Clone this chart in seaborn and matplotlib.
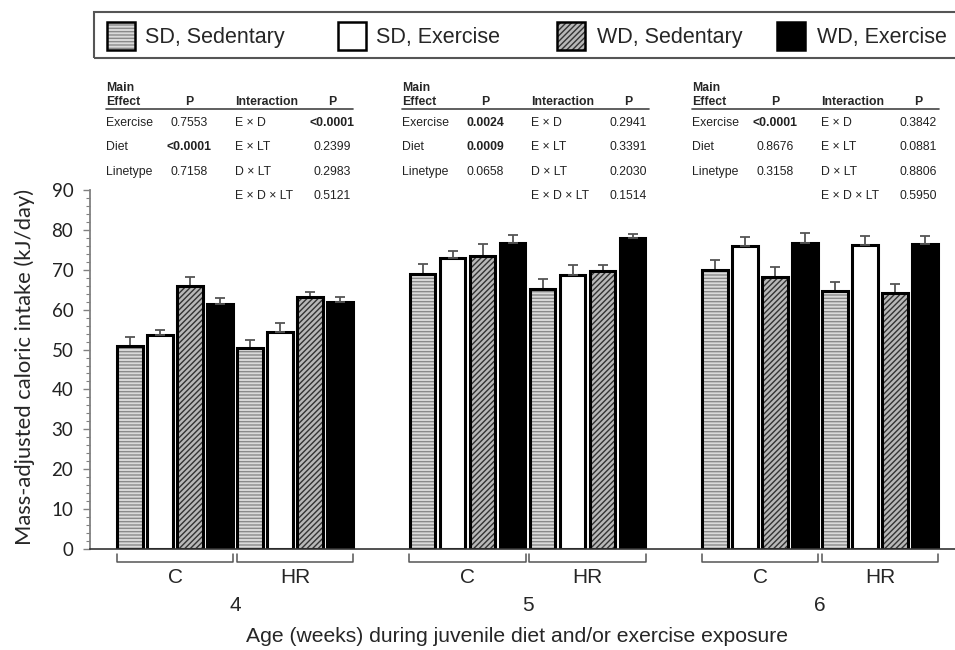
import numpy as np
import pandas as pd
import matplotlib
matplotlib.use("Agg")
import matplotlib.pyplot as plt
import seaborn as sns
from matplotlib.patches import Rectangle
from matplotlib.lines import Line2D

# ---------------- data ----------------
weeks = ["4", "5", "6"]
linetypes = ["C", "HR"]
treatments = ["SD, Sedentary", "SD, Exercise", "WD, Sedentary", "WD, Exercise"]

mean_4_C = [50.9, 53.6, 65.9, 61.4]
mean_4_HR = [50.3, 54.4, 63.2, 61.9]
mean_5_C = [68.9, 72.9, 73.4, 76.7]
mean_5_HR = [65.2, 68.7, 69.8, 77.9]
mean_6_C = [69.9, 75.9, 68.1, 76.7]
mean_6_HR = [64.7, 76.2, 64.3, 76.5]

se_4_C = [2.2, 1.3, 2.3, 1.6]
se_4_HR = [2.1, 2.2, 1.3, 1.2]
se_5_C = [2.5, 1.8, 3.0, 2.0]
se_5_HR = [2.4, 2.5, 1.5, 1.0]
se_6_C = [2.6, 2.3, 2.7, 2.5]
se_6_HR = [2.3, 2.2, 2.1, 2.0]

main_effects = ["Exercise", "Diet", "Linetype"]
interactions = ["E × D", "E × LT", "D × LT", "E × D × LT"]
main_p_4 = ["0.7553", "<0.0001", "0.7158"]
int_p_4 = ["<0.0001", "0.2399", "0.2983", "0.5121"]
main_p_5 = ["0.0024", "0.0009", "0.0658"]
int_p_5 = ["0.2941", "0.3391", "0.2030", "0.1514"]
main_p_6 = ["<0.0001", "0.8676", "0.3158"]
int_p_6 = ["0.3842", "0.0881", "0.8806", "0.5950"]

means = {("4", "C"): mean_4_C, ("4", "HR"): mean_4_HR,
         ("5", "C"): mean_5_C, ("5", "HR"): mean_5_HR,
         ("6", "C"): mean_6_C, ("6", "HR"): mean_6_HR}
ses = {("4", "C"): se_4_C, ("4", "HR"): se_4_HR,
       ("5", "C"): se_5_C, ("5", "HR"): se_5_HR,
       ("6", "C"): se_6_C, ("6", "HR"): se_6_HR}
main_ps = [main_p_4, main_p_5, main_p_6]
int_ps = [int_p_4, int_p_5, int_p_6]

# ---------------- layout ----------------
W, H = 955, 650
def fx(px): return px / W
def fy(py): return 1 - py / H

WEEK_STEP = 2.4375
rows = []
for wi, wk in enumerate(weeks):
    for li, lt in enumerate(linetypes):
        pos = wi * WEEK_STEP + li
        for ti, tr in enumerate(treatments):
            rows.append(dict(week=wk, lt=lt, pos=pos, treatment=tr,
                             mean=means[(wk, lt)][ti], se=ses[(wk, lt)][ti]))
df = pd.DataFrame(rows)

sns.set_theme(style="white")
plt.rcParams["font.family"] = ["Liberation Sans", "DejaVu Sans"]
plt.rcParams["hatch.linewidth"] = 1.0

fig = plt.figure(figsize=(W / 100, H / 100), dpi=100)
fig.patch.set_facecolor("white")
ax = fig.add_axes([fx(90), fy(549), 1 - fx(90), fy(190) - fy(549)])

palette = {"SD, Sedentary": "#dadada", "SD, Exercise": "white",
           "WD, Sedentary": "#b8b8b8", "WD, Exercise": "black"}
hatches = {"SD, Sedentary": ("-----", "#8a8a8a"),
           "WD, Sedentary": ("//////", "#333333")}

sns.barplot(data=df, x="pos", y="mean", hue="treatment", hue_order=treatments,
            palette=palette, native_scale=True, width=1.0, gap=0.14,
            errorbar=None, legend=False, ax=ax)

group_pos = sorted(df["pos"].unique())
for cont, tr in zip(ax.containers, treatments):
    for bar in cont:
        x0, y0 = bar.get_xy()
        w, h = bar.get_width(), bar.get_height()
        xc = x0 + w / 2
        gp = min(group_pos, key=lambda p: abs(p - xc))
        row = df[(df["pos"] == gp) & (df["treatment"] == tr)].iloc[0]
        if tr in hatches:
            hatch, hc = hatches[tr]
            bar.set_hatch(hatch)
            bar.set_edgecolor(hc)
            bar.set_linewidth(0)
            ax.add_patch(Rectangle((x0, y0), w, h, fill=False, edgecolor="black",
                                   linewidth=2.2, zorder=bar.get_zorder() + 0.1))
        else:
            bar.set_edgecolor("black")
            bar.set_linewidth(2.2)
        ax.errorbar(xc, h, yerr=[[0], [row["se"]]], fmt="none", ecolor="#555555",
                    elinewidth=1.3, capsize=3.5, capthick=1.3, zorder=1)

ax.set_ylim(0, 90)
ax.set_xlim((90 - 175) / 120, (955 - 175) / 120)
ax.set_yticks(range(0, 91, 10))
ax.set_yticks(range(0, 91, 2), minor=True)
ax.set_xticks([])
ax.set_xlabel("")
ax.set_ylabel("")
for lab in ax.get_yticklabels():
    lab.set_fontfamily(["Lato", "DejaVu Sans"])
    lab.set_fontsize(13.5)
    lab.set_color("#222222")
ax.tick_params(axis="y", which="major", length=5, width=1, color="#808080",
               left=True, pad=7)
ax.tick_params(axis="y", which="minor", length=3, width=0.8, color="#808080",
               left=True)
for s in ["top", "right"]:
    ax.spines[s].set_visible(False)
ax.spines["left"].set_color("#808080")
ax.spines["left"].set_linewidth(1.3)
ax.spines["bottom"].set_color("#333333")
ax.spines["bottom"].set_linewidth(1.2)

# brackets and group labels
tr_x = ax.get_xaxis_transform()
for wi, wk in enumerate(weeks):
    for li, lt in enumerate(linetypes):
        p = wi * WEEK_STEP + li
        l, r = p - 0.485, p + 0.485
        ax.add_line(Line2D([l, l, r, r], [-0.014, -0.036, -0.036, -0.014],
                           transform=tr_x, color="#555555", lw=1.1, clip_on=False))
        ax.text(p, -0.078, lt, transform=tr_x, ha="center", va="center",
                fontsize=15)
    ax.text(wi * WEEK_STEP + 0.5, -0.156, wk, transform=tr_x, ha="center",
            va="center", fontsize=15)
fig.text((230 + 804) / 2 / W, fy(637),
         "Age (weeks) during juvenile diet and/or exercise exposure",
         ha="center", va="center", fontsize=15.2)
fig.text(fx(25), fy(367), "Mass-adjusted caloric intake (kJ/day)", rotation=90,
         ha="center", va="center", fontsize=15.8, family=["Lato", "DejaVu Sans"])

# legend box
fig.patches.append(Rectangle((fx(94), fy(58)), fx(880), fy(12) - fy(58),
                             transform=fig.transFigure, fill=False,
                             edgecolor="#555555", linewidth=1.5))
sw_x = [107, 338, 557, 777]
tx_x = [145, 376, 597, 817]
for tr, sx, tx in zip(treatments, sw_x, tx_x):
    fc = palette[tr]
    if tr in hatches:
        hatch, hc = hatches[tr]
        fig.patches.append(Rectangle((fx(sx), fy(50)), fx(28), fy(22) - fy(50),
                                     transform=fig.transFigure, facecolor=fc,
                                     edgecolor=hc, hatch=hatch, linewidth=0))
        fig.patches.append(Rectangle((fx(sx), fy(50)), fx(28), fy(22) - fy(50),
                                     transform=fig.transFigure, fill=False,
                                     edgecolor="black", linewidth=1.8))
    else:
        fig.patches.append(Rectangle((fx(sx), fy(50)), fx(28), fy(22) - fy(50),
                                     transform=fig.transFigure, facecolor=fc,
                                     edgecolor="black", linewidth=1.8))
    fig.text(fx(tx), fy(37), tr, ha="left", va="center", fontsize=15.5)

# statistics tables
def is_sig(p):
    return p.startswith("<") or float(p) < 0.05

table_x = [106, 402, 692]
row_y = [123, 147, 172, 196]
FS = 8.8
for t, x0 in enumerate(table_x):
    fig.text(fx(x0), fy(88), "Main", ha="left", va="center", fontsize=FS,
             weight="bold")
    fig.text(fx(x0), fy(102), "Effect", ha="left", va="center", fontsize=FS,
             weight="bold")
    fig.text(fx(x0 + 83), fy(102), "P", ha="center", va="center", fontsize=FS,
             weight="bold")
    fig.text(fx(x0 + 129), fy(102), "Interaction", ha="left", va="center",
             fontsize=FS, weight="bold")
    fig.text(fx(x0 + 226), fy(102), "P", ha="center", va="center", fontsize=FS,
             weight="bold")
    fig.add_artist(Line2D([fx(x0), fx(x0 + 247)], [fy(109), fy(109)],
                          transform=fig.transFigure, color="#444444", lw=1.2))
    for i, (name, p) in enumerate(zip(main_effects, main_ps[t])):
        fig.text(fx(x0), fy(row_y[i]), name, ha="left", va="center", fontsize=FS,
                 color="#222222")
        fig.text(fx(x0 + 83), fy(row_y[i]), p, ha="center", va="center",
                 fontsize=FS, weight="bold" if is_sig(p) else "normal",
                 color="#222222")
    for i, (name, p) in enumerate(zip(interactions, int_ps[t])):
        fig.text(fx(x0 + 129), fy(row_y[i]), name, ha="left", va="center",
                 fontsize=FS, color="#222222")
        fig.text(fx(x0 + 226), fy(row_y[i]), p, ha="center", va="center",
                 fontsize=FS, weight="bold" if is_sig(p) else "normal",
                 color="#222222")

fig.savefig("out.png", dpi=100, facecolor="white")
